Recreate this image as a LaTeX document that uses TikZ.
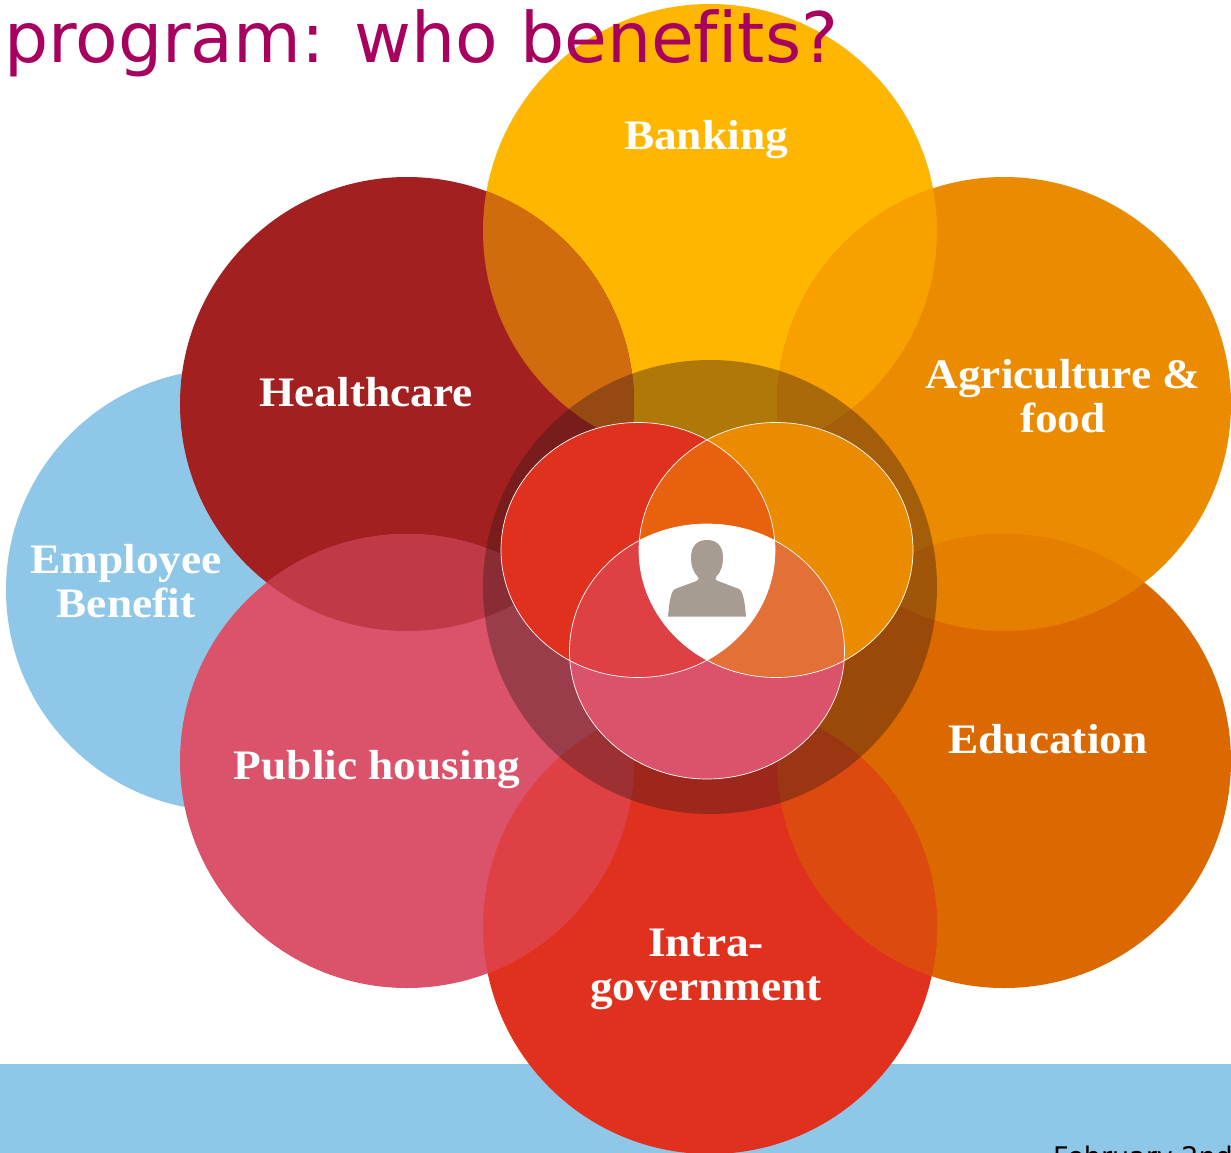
\documentclass[tikz,border=0pt]{standalone}
\usepackage{fontspec}
\setmainfont[FakeStretch=1.08]{Liberation Serif}
\newfontfamily\titlefont[Ligatures=NoCommon]{DejaVu Sans}
\definecolor{bandblue}{HTML}{8EC7E7}
\definecolor{healthred}{HTML}{A32020}
\definecolor{intrared}{HTML}{E0301E}
\definecolor{eduorange}{HTML}{DC6900}
\definecolor{agriorange}{HTML}{EB8C00}
\definecolor{bankyellow}{HTML}{FFB600}
\definecolor{publicpink}{HTML}{DB536A}
\definecolor{titlepurple}{HTML}{A8005F}
\definecolor{persongrey}{HTML}{A79C91}
\definecolor{hubdark}{HTML}{3A1A18}
\newcommand{\overlap}[3]{\begin{scope}\clip #1; \fill[fill=#3] #2;\end{scope}}

\begin{document}
\begin{tikzpicture}[x=1pt, y=-1pt,
    label/.style={text=white, font=\fontsize{42}{44}\selectfont\bfseries, align=center},
    outline/.style={draw=white, line width=0.7pt}]
\clip (0,0) rectangle (1231,1153);
\fill[white] (0,0) rectangle (1231,1153);
\fill[bandblue] (0,1064) rectangle (1231,1153);
\node (footer) [anchor=base west, inner sep=0pt, font=\titlefont\fontsize{27}{27}\selectfont] at (1053,1166) {February 2nd};

\coordinate (banking) at (710,231);
\coordinate (agri) at (1004,404);
\coordinate (education) at (1004,761);
\coordinate (intra) at (710,927);
\coordinate (public) at (407,761);
\coordinate (health) at (407,404);
\coordinate (employee) at (227,590);
\coordinate (hub) at (710,587);
\coordinate (redpart) at (638,550);
\coordinate (orangepart) at (776,550);
\coordinate (pinkpart) at (707,651.5);

\fill[bandblue] (employee) circle (221);
\fill[bankyellow] (banking) circle (227);
\fill[agriorange] (agri) circle (227);
\fill[eduorange] (education) circle (227);
\fill[intrared] (intra) circle (227);
\fill[healthred] (health) circle (227);
\fill[publicpink] (public) circle (227);
\overlap{(banking) circle (227)}{(health) circle (227)}{{rgb,255:red,208;green,107;blue,14}}
\overlap{(banking) circle (227)}{(agri) circle (227)}{{rgb,255:red,247;green,160;blue,0}}
\overlap{(agri) circle (227)}{(education) circle (227)}{{rgb,255:red,229;green,127;blue,0}}
\overlap{(education) circle (227)}{(intra) circle (227)}{{rgb,255:red,221;green,74;blue,16}}
\overlap{(intra) circle (227)}{(public) circle (227)}{{rgb,255:red,223;green,64;blue,68}}
\overlap{(health) circle (227)}{(public) circle (227)}{{rgb,255:red,192;green,57;blue,70}}
\fill[hubdark, fill opacity=0.4] (hub) circle (227);

\fill[intrared] (redpart) ellipse (137 and 127.5);
\fill[agriorange] (orangepart) ellipse (137 and 127.5);
\fill[publicpink] (pinkpart) ellipse (137.5 and 127.5);
\overlap{(redpart) ellipse (137 and 127.5)}{(orangepart) ellipse (137 and 127.5)}{{rgb,255:red,232;green,97;blue,14}}
\overlap{(redpart) ellipse (137 and 127.5)}{(pinkpart) ellipse (137.5 and 127.5)}{{rgb,255:red,223;green,64;blue,68}}
\overlap{(orangepart) ellipse (137 and 127.5)}{(pinkpart) ellipse (137.5 and 127.5)}{{rgb,255:red,227;green,112;blue,55}}
\begin{scope}
\clip (redpart) ellipse (137 and 127.5);
\clip (orangepart) ellipse (137 and 127.5);
\fill[white] (pinkpart) ellipse (137.5 and 127.5);
\end{scope}
\draw[outline] (redpart) ellipse (137 and 127.5);
\draw[outline] (orangepart) ellipse (137 and 127.5);
\draw[outline] (pinkpart) ellipse (137.5 and 127.5);

\fill[persongrey] (668,616.7) .. controls (669,606) and (670,592) .. (675,589)
  -- (696.5,581) .. controls (699,580) and (699,578) .. (698,577)
  .. controls (693,572) and (691,565) .. (691,558)
  .. controls (691,546) and (697,540) .. (707,540)
  .. controls (717,540) and (723,546) .. (723,558)
  .. controls (723,565) and (721,572) .. (716,577)
  .. controls (715,578) and (715,580) .. (718,581)
  -- (739,589) .. controls (744,592) and (745,606) .. (746,616.7) -- cycle;

\node (bankinglabel) [label] at (706,139.5) {Banking};
\node (agrilabel) [label] at (1063,396.5) {Agriculture \&\\food};
\node (educationlabel) [label] at (1048,739.5) {Education};
\node (intralabel) [label] at (706,969) {Intra-\\government};
\node (publiclabel) [label] at (377,770) {Public housing};
\node (healthlabel) [label] at (366,392) {Healthcare};
\node (employeelabel) [label] at (126,581.5) {Employee\\Benefit};
\node (title) [anchor=base west, inner sep=0pt, text=titlepurple, font=\titlefont\fontsize{69.6}{70}\selectfont] at (4,63) {program: who benefits?};
\end{tikzpicture}
\end{document}
